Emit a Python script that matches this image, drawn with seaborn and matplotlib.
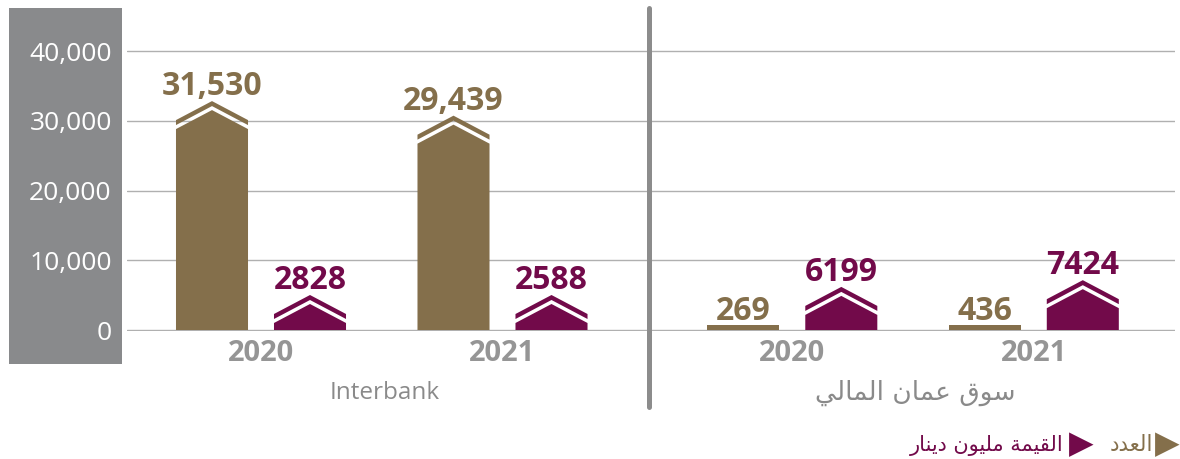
import numpy as np
import pandas as pd
import matplotlib.pyplot as plt
import seaborn as sns
from matplotlib.patches import Polygon, Rectangle

# --- data ---
years = ['2020', '2021']
interbank_count = [31530, 29439]
interbank_value = [2828, 2588]
msm_count = [269, 436]
msm_value = [6199, 7424]
series = ['count', 'value']
group_labels = ['Interbank', 'سوق عمان المالي']
legend_labels = ['العدد', 'القيمة مليون دينار']
y_ticks = [0, 10000, 20000, 30000, 40000]

BROWN = '#846F4B'
PURPLE = '#720A4A'
GRID = '#B0B0B0'
PANEL = '#898A8C'
YEAR_GREY = '#959595'


def shape_arabic(word_forms):
    # matplotlib has no arabic shaping, so glyphs are given as presentation
    # forms and put in visual (left to right) order
    return ''.join(word_forms)[::-1]


# presentation forms for the arabic strings above
AR_MSM = shape_arabic(['\uFEB3\uFEEE\uFED5', ' ', '\uFECB\uFEE4\uFE8E\uFEE5', ' ',
                       '\uFE8D\uFEDF\uFEE4\uFE8E\uFEDF\uFEF2'])
AR_COUNT = shape_arabic(['\uFE8D\uFEDF\uFECC\uFEAA\uFEA9'])
AR_VALUE = shape_arabic(['\uFE8D\uFEDF\uFED8\uFEF4\uFEE4\uFE94', ' ',
                         '\uFEE3\uFEE0\uFEF4\uFEEE\uFEE5', ' ',
                         '\uFEA9\uFEF3\uFEE8\uFE8E\uFEAD'])

sns.set_theme(style='white')
plt.rcParams['font.family'] = ['Open Sans', 'DejaVu Sans']

W, H = 1180, 459
fig = plt.figure(figsize=(W / 100, H / 100), dpi=100)

ax_left, ax_right, ax_bottom, ax_top = 127, 1175, 331, 8
ax = fig.add_axes([ax_left / W, (H - ax_bottom) / H,
                   (ax_right - ax_left) / W, (ax_bottom - ax_top) / H])
ax_h_px = ax_bottom - ax_top
ax.set_facecolor('none')

# left panel scale: 40,000 sits 279 px above zero
left_per_px = 40000 / 279
# right panel uses its own smaller scale
right_per_px = 1000 / 5.5

pos_left = [0, 1]
pos_right = [2.2, 3.2]

df_left = pd.DataFrame({
    'pos': pos_left * 2,
    'val': interbank_count + interbank_value,
    'series': [series[0]] * 2 + [series[1]] * 2,
})
df_right = pd.DataFrame({
    'pos': pos_right * 2,
    'val': msm_count + msm_value,
    'series': [series[0]] * 2 + [series[1]] * 2,
})

ax2 = ax.twinx()
ax2.set_facecolor('none')

palette = {series[0]: BROWN, series[1]: PURPLE}
for a, d in [(ax, df_left), (ax2, df_right)]:
    sns.barplot(data=d, x='pos', y='val', hue='series', hue_order=series,
                palette=palette, native_scale=True, width=0.8116, gap=0.265,
                legend=False, ax=a, saturation=1, errorbar=None)

xlim = ((ax_left - 261) / 241.5, (ax_right - 261) / 241.5)
for a, per_px in [(ax, left_per_px), (ax2, right_per_px)]:
    a.set_xlim(*xlim)
    a.set_ylim(-1 * per_px, (ax_h_px - 1) * per_px)
    for s in a.spines.values():
        s.set_visible(False)

ROOF, GAP, BAND = 19, 4, 5  # pixels


def draw_houses(a, per_px):
    for p in list(a.patches):
        if not isinstance(p, Rectangle) or p.get_height() <= 0:
            continue
        x0 = p.get_x()
        x1 = x0 + p.get_width()
        xc = (x0 + x1) / 2
        h = p.get_height()
        col = p.get_facecolor()
        p.set_visible(False)
        r, g, t = ROOF * per_px, GAP * per_px, BAND * per_px
        if h / per_px > 12:
            s = max(h - r, 7 * per_px)
            pk = s + r
            a.add_patch(Polygon([(x0, 0), (x0, s), (xc, pk), (x1, s), (x1, 0)],
                                closed=True, fc=col, ec='none', zorder=3))
            a.add_patch(Polygon([(x0, s + g), (xc, pk + g), (x1, s + g),
                                 (x1, s + g + t), (xc, pk + g + t), (x0, s + g + t)],
                                closed=True, fc=col, ec='none', zorder=3))
            top = pk + g + t + 6 * per_px
        else:
            hh = max(h, 5 * per_px)
            a.add_patch(Rectangle((x0, 0), x1 - x0, hh, fc=col, ec='none', zorder=3))
            top = hh + 5 * per_px
        a.text(xc, top, f'{h:,.0f}' if h >= 10000 else f'{h:.0f}',
               ha='center', va='baseline', fontsize=23, fontweight='bold',
               color=col, zorder=4)


draw_houses(ax, left_per_px)
draw_houses(ax2, right_per_px)

# grid and y ticks
ax2.set_yticks([])
ax2.grid(False)
ax2.set_ylabel('')
ax2.set_xlabel('')

ax.set_yticks(y_ticks)
ax.set_yticklabels([f'{v:,}' for v in y_ticks])
ax.yaxis.grid(True, color=GRID, linewidth=1.0)
ax.xaxis.grid(False)
ax.set_axisbelow(True)
ax.tick_params(axis='y', length=0, pad=11, labelsize=19, labelcolor='white')

ax.set_xticks(pos_left + pos_right)
ax.set_xticklabels(years * 2)
ax.tick_params(axis='x', length=0, pad=6, labelsize=21, labelcolor=YEAR_GREY,
               labelbottom=True)
for lbl in ax.get_xticklabels():
    lbl.set_fontweight('bold')
ax.set_xlabel('')
ax.set_ylabel('')

# separator between the two groups
ax.axvline((648.5 - 261) / 241.5, ymin=-76 / ax_h_px, ymax=1, color='#8C8C8C',
           linewidth=3.6, clip_on=False, zorder=5)

# group names
fig.text(385 / W, (H - 393) / H, group_labels[0], ha='center', va='center',
         fontsize=17.5, color='#8A8A8A')
fig.text(915 / W, (H - 393) / H, AR_MSM, ha='center', va='center',
         fontsize=19, color='#8A8A8A', family='DejaVu Sans')

# grey y-axis panel
fig.patches.append(Rectangle((9 / W, (H - 364) / H), 113 / W, 356 / H,
                             transform=fig.transFigure, fc=PANEL, ec='none',
                             zorder=-1))

# legend at bottom right
ly = (H - 445) / H
fig.text(1180 / W, ly, '\u25B6', ha='right', va='center', fontsize=23,
         color=BROWN, family='DejaVu Sans')
fig.text(1153 / W, ly, AR_COUNT, ha='right', va='center', fontsize=15.5,
         color=BROWN, family='DejaVu Sans')
fig.text(1094 / W, ly, '\u25B6', ha='right', va='center', fontsize=23,
         color=PURPLE, family='DejaVu Sans')
fig.text(1064 / W, ly, AR_VALUE, ha='right', va='center', fontsize=15,
         color=PURPLE, family='DejaVu Sans')

fig.savefig('out.png', dpi=100)
